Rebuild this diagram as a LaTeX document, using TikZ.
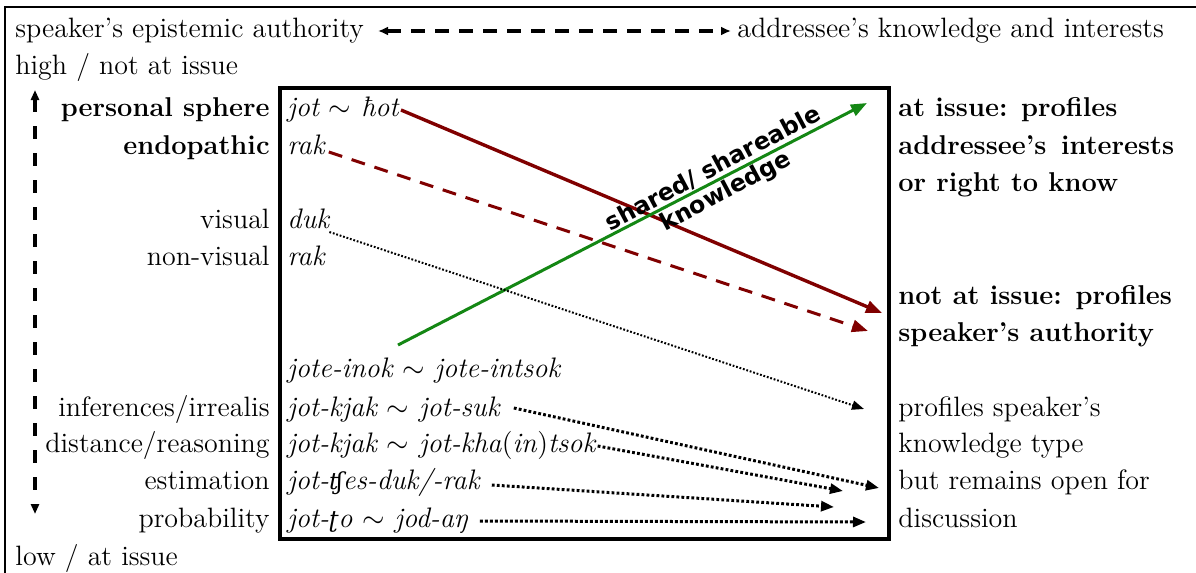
\documentclass[tikz,border=0pt]{standalone}
\usepackage{fontspec}
\newfontfamily\sharedfont{DejaVu Sans}
\newfontfamily\ipaf{DejaVu Serif}[Scale=MatchLowercase]
\usetikzlibrary{arrows.meta}
\definecolor{darkred}{RGB}{128,0,0}
\definecolor{shgreen}{RGB}{20,135,20}
\newcommand{\tld}{\ensuremath{\sim}}
\begin{document}
\begin{tikzpicture}[x=0.5pt,y=-0.5pt,
  every node/.style={inner sep=0pt, font=\fontsize{14}{17}\selectfont},
  lab/.style={anchor=base east},
  boldlab/.style={anchor=base east, font=\fontsize{13.6}{17}\selectfont\bfseries},
  ent/.style={anchor=base west, font=\fontsize{14.1}{17}\selectfont\itshape},
  rt/.style={anchor=base west},
  boldrt/.style={anchor=base west, font=\fontsize{13.6}{17}\selectfont\bfseries},
  plain/.style={anchor=base west},
  frame/.style={line width=0.75pt},
  innerbox/.style={line width=2pt},
  redline/.style={darkred, line width=1.7pt, -{Triangle[length=8pt,width=6pt]}},
  reddash/.style={darkred, line width=1.5pt, dash pattern=on 7pt off 5pt, -{Triangle[length=8pt,width=6pt]}},
  greenline/.style={shgreen, line width=1.5pt, -{Triangle[length=8pt,width=6pt]}},
  thindot/.style={black, line width=1pt, dash pattern=on 0.9pt off 0.9pt, -{Triangle[length=6pt,width=4.5pt]}},
  thickdot/.style={black, line width=1.5pt, dash pattern=on 1.4pt off 1.1pt, -{Triangle[length=6.5pt,width=5pt]}},
  blackdash/.style={black, line width=1.7pt, dash pattern=on 7pt off 5pt},
  vdash/.style={black, line width=1.8pt, dash pattern=on 6.5pt off 7pt},
  sharedtxt/.style={font=\fontsize{11.8}{13}\sharedfont\bfseries, text=black, rotate=28}
]
\useasboundingbox (0,0) rectangle (1196,573);

% outer frame (top and left lines)
\coordinate (ftl) at (5,7);
\coordinate (ftr) at (1196,7);
\coordinate (fbl) at (5,573);
\draw[frame] (ftr) -- (ftl) -- (fbl);

% top line
\node[plain] (spk) at (15,38) {speaker’s epistemic authority};
\node[plain] (adr) at (737,38) {addressee’s knowledge and interests};
\coordinate (tal) at (378,31);
\coordinate (tar) at (731,31);
\draw[blackdash, {Latex[length=5pt,width=4.5pt]}-{Latex[length=5pt,width=4.5pt]}] (tal) -- (tar);

\node[plain] (high) at (15,75) {high / not at issue};
\node[plain] (low) at (15,565) {low / at issue};

% vertical arrow
\coordinate (vt) at (35,90);
\coordinate (vb) at (35,514);
\draw[vdash, {Triangle[length=5pt,width=4pt]}-{Triangle[length=5pt,width=4pt]}] (vt) -- (vb);

% inner box
\node[draw, innerbox, minimum width=304.5pt, minimum height=225.5pt, anchor=north west] (box) at (278,86) {};

% left labels
\node[boldlab] (ps) at (270,116) {personal sphere};
\node[boldlab] (endo) at (270,154) {endopathic};
\node[lab] (vis) at (270,228) {visual};
\node[lab] (nvis) at (270,265) {non-visual};
\node[lab] (inf) at (270,416) {inferences/irrealis};
\node[lab] (dist) at (270,452) {distance/reasoning};
\node[lab] (est) at (270,489) {estimation};
\node[lab] (prob) at (270,527) {probability};

% entries
\node[ent] (hot) at (287,116) {jot \tld{} ħot};
\node[ent] (rak1) at (287,154) {rak};
\node[ent] (duk) at (287,228) {duk};
\node[ent] (rak2) at (287,265) {rak};
\node[ent] (inok) at (287,377) {jote-inok \tld{} jote-intsok};
\node[ent] (suk) at (287,416) {jot-kjak \tld{} jot-suk};
\node[ent] (tsok) at (287,452) {jot-kjak \tld{} jot-kha\textup{(}in\textup{)}tsok};
\node[ent] (tfes) at (287,489) {jot-{\ipaf ʧ}es-duk/-rak};
\node[ent] (to) at (287,527) {jot-{\ipaf ʈ}o \tld{} jod-aŋ};

% right texts
\node[boldrt] (ai1) at (898,116) {at issue: profiles};
\node[boldrt] (ai2) at (898,154) {addressee’s\, interests};
\node[boldrt] (ai3) at (898,191) {or right to know};
\node[boldrt] (na1) at (898,304) {not at issue: profiles};
\node[boldrt] (na2) at (898,341) {speaker’s authority};
\node[rt] (pk1) at (898,416) {profiles speaker’s};
\node[rt] (pk2) at (898,452) {knowledge type};
\node[rt] (pk3) at (898,489) {but remains open for};
\node[rt] (pk4) at (898,527) {discussion};

% arrow end points
\coordinate (redend) at (882,313);
\coordinate (rdend) at (868,331);
\coordinate (gstart) at (398,345);
\coordinate (gend) at (867,103);
\coordinate (dukend) at (864,409);
\coordinate (e1) at (879,488);
\coordinate (e2) at (843,491);
\coordinate (e3) at (834,507);
\coordinate (e4) at (866,522);

\draw[redline] ([xshift=1pt,yshift=3pt]hot.base east) -- (redend);
\draw[reddash] ([xshift=2pt,yshift=1pt]rak1.base east) -- (rdend);
\draw[greenline] (gstart) -- (gend);
\draw[thindot] ([xshift=0pt,yshift=-2pt]duk.base east) -- (dukend);
\draw[thickdot] ([xshift=7pt,yshift=4pt]suk.base east) -- (e1);
\draw[thickdot] ([xshift=1pt,yshift=3pt]tsok.base east) -- (e2);
\draw[thickdot] ([xshift=6pt,yshift=2pt]tfes.base east) -- (e3);
\draw[thickdot] ([xshift=6pt,yshift=3pt]to.base east) -- (e4);

% shared knowledge label
\node[sharedtxt] (sh1) at (713,168) {shared/ shareable};
\node[sharedtxt] (sh2) at (726,192) {knowledge};
\end{tikzpicture}
\end{document}
